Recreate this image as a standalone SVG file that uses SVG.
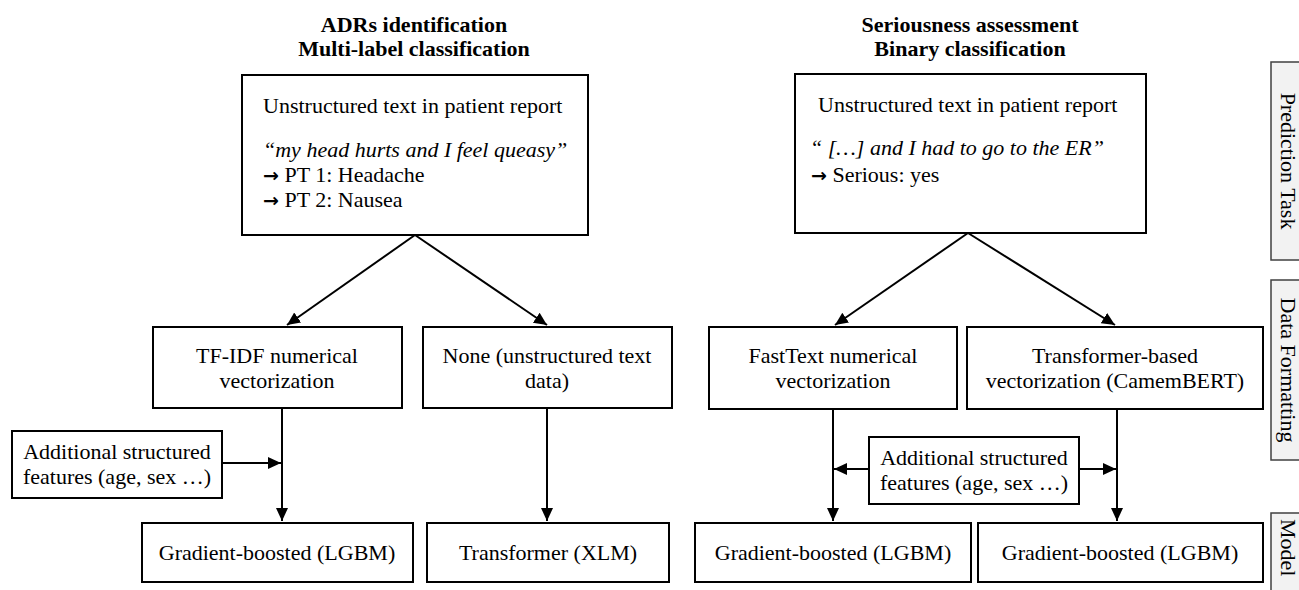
<svg xmlns="http://www.w3.org/2000/svg" width="1299" height="590" viewBox="0 0 1299 590">
<style>
text{font-family:"Liberation Serif","Times New Roman",serif;font-size:22px;fill:#000}
.t{font-weight:bold;text-anchor:middle}
.c{text-anchor:middle}
.i{font-style:italic}
.ar{font-family:"DejaVu Sans",sans-serif;font-weight:bold;font-size:19px}
.box{fill:#fff;stroke:#000;stroke-width:2}
.side{fill:#f2f2f2;stroke:#404040;stroke-width:1.5}
.ln{stroke:#000;stroke-width:2;fill:none;marker-end:url(#ah)}
</style>
<defs>
<marker id="ah" markerUnits="userSpaceOnUse" markerWidth="14" markerHeight="14" viewBox="0 0 14 14" refX="13" refY="7" orient="auto">
<path d="M0,1 L13,7 L0,13 z" fill="#000"/>
</marker>
</defs>
<rect width="1299" height="590" fill="#fff"/>
<g id="titles">
<text class="t" x="414" y="32">ADRs identification</text>
<text class="t" x="414" y="56">Multi-label classification</text>
<text class="t" x="970" y="32">Seriousness assessment</text>
<text class="t" x="970" y="56">Binary classification</text>
</g>
<g id="connectors">
<path class="ln" d="M415,235 L287,325"/>
<path class="ln" d="M415,235 L547,325"/>
<path class="ln" d="M282,408 L282,521"/>
<path class="ln" d="M222,463 L281,463"/>
<path class="ln" d="M547,408 L547,521"/>
<path class="ln" d="M968,233 L835,325"/>
<path class="ln" d="M968,233 L1115,325"/>
<path class="ln" d="M833,409 L833,521"/>
<path class="ln" d="M1117,409 L1117,521"/>
<path class="ln" d="M869,469 L834,469"/>
<path class="ln" d="M1079,469 L1116,469"/>
</g>
<g id="adr-task">
<rect class="box" x="242" y="75" width="346" height="160"/>
<text x="263" y="113">Unstructured text in patient report</text>
<text class="i" x="263" y="157">“my head hurts and I feel queasy”</text>
<text x="263" y="182"><tspan class="ar">→</tspan> PT 1: Headache</text>
<text x="263" y="207"><tspan class="ar">→</tspan> PT 2: Nausea</text>
</g>
<g id="ser-task">
<rect class="box" x="795" y="74" width="351" height="159"/>
<text x="818" y="112">Unstructured text in patient report</text>
<text class="i" x="810" y="155">“ […] and I had to go to the ER”</text>
<text x="811" y="182"><tspan class="ar">→</tspan> Serious: yes</text>
</g>
<g id="tfidf">
<rect class="box" x="153" y="327" width="249" height="81"/>
<text class="c" x="277" y="363">TF-IDF numerical</text>
<text class="c" x="277" y="388">vectorization</text>
</g>
<g id="none">
<rect class="box" x="423" y="327" width="249" height="81"/>
<text class="c" x="547" y="363">None (unstructured text</text>
<text class="c" x="547" y="388">data)</text>
</g>
<g id="fasttext">
<rect class="box" x="709" y="327" width="248" height="82"/>
<text class="c" x="833" y="363">FastText numerical</text>
<text class="c" x="833" y="388">vectorization</text>
</g>
<g id="camembert">
<rect class="box" x="967" y="327" width="296" height="82"/>
<text class="c" x="1115" y="363">Transformer-based</text>
<text class="c" x="1115" y="388">vectorization (CamemBERT)</text>
</g>
<g id="add-left">
<rect class="box" x="12" y="431" width="210" height="67"/>
<text class="c" x="117" y="459">Additional structured</text>
<text class="c" x="117" y="484">features (age, sex …)</text>
</g>
<g id="add-right">
<rect class="box" x="869" y="437" width="210" height="67"/>
<text class="c" x="974" y="465">Additional structured</text>
<text class="c" x="974" y="490">features (age, sex …)</text>
</g>
<g id="lgbm-adr">
<rect class="box" x="142" y="523" width="271" height="59"/>
<text class="c" x="277" y="560">Gradient-boosted (LGBM)</text>
</g>
<g id="xlm">
<rect class="box" x="427" y="523" width="242" height="59"/>
<text class="c" x="548" y="560">Transformer (XLM)</text>
</g>
<g id="lgbm-ser1">
<rect class="box" x="695" y="523" width="276" height="59"/>
<text class="c" x="833" y="560">Gradient-boosted (LGBM)</text>
</g>
<g id="lgbm-ser2">
<rect class="box" x="978" y="523" width="285" height="59"/>
<text class="c" x="1120" y="560">Gradient-boosted (LGBM)</text>
</g>
<g id="side-prediction">
<rect class="side" x="1271" y="62" width="40" height="198"/>
<text class="c" transform="translate(1281,161) rotate(90)">Prediction Task</text>
</g>
<g id="side-formatting">
<rect class="side" x="1271" y="280" width="40" height="180"/>
<text class="c" transform="translate(1281,370) rotate(90)">Data Formatting</text>
</g>
<g id="side-model">
<rect class="side" x="1271" y="513" width="40" height="90"/>
<text transform="translate(1281,519) rotate(90)">Model</text>
</g>
</svg>
